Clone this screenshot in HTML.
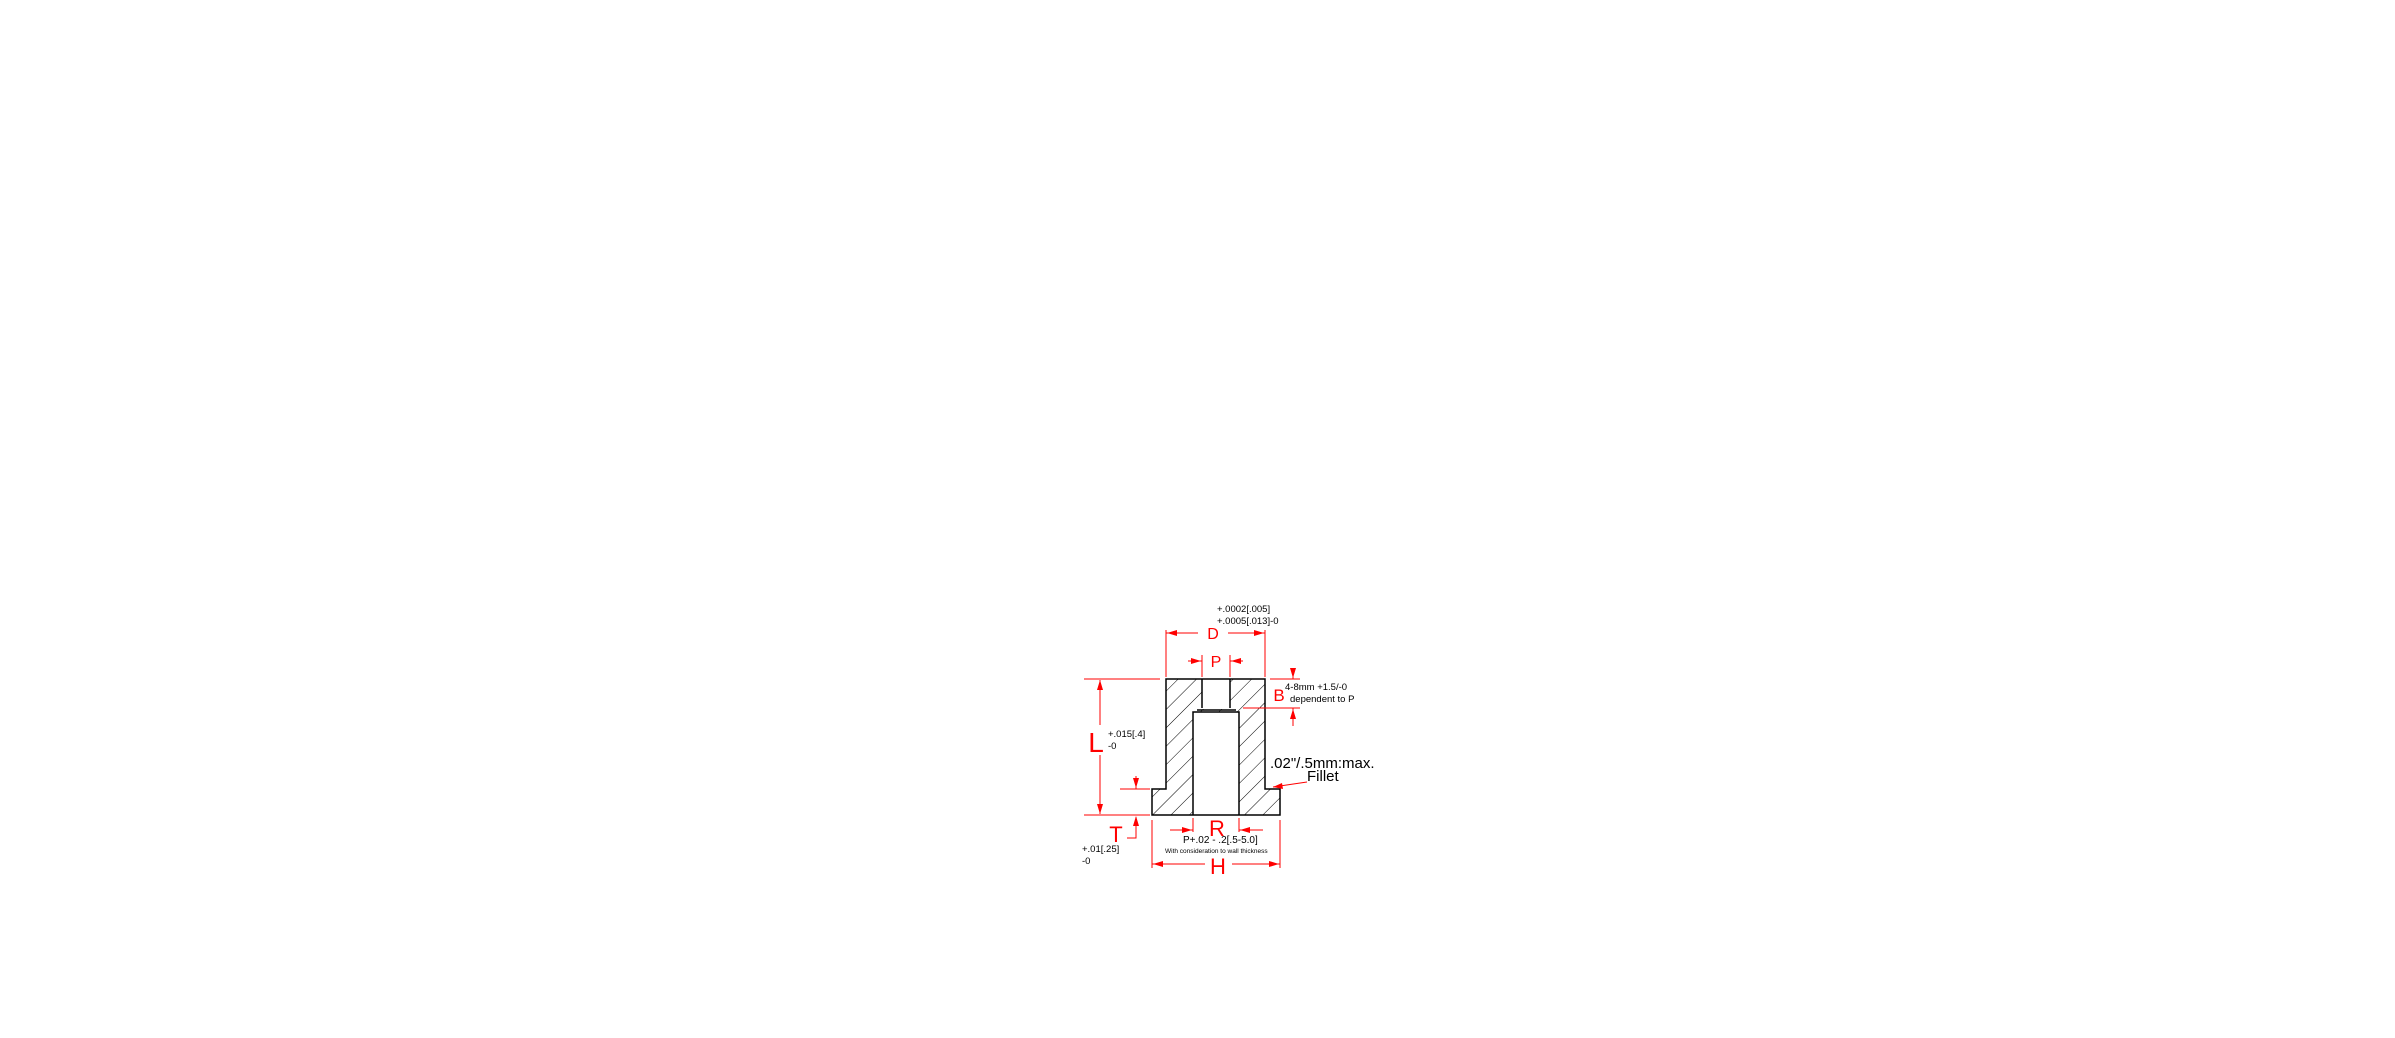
<!DOCTYPE html>
<html><head><meta charset="utf-8"><style>
html,body{margin:0;padding:0;background:#fff;width:2395px;height:1038px;overflow:hidden}
svg{display:block}
text{font-family:"Liberation Sans",sans-serif}
</style></head><body>
<svg width="2395" height="1038" viewBox="0 0 2395 1038" xmlns="http://www.w3.org/2000/svg">
<defs>
<pattern id="h" patternUnits="userSpaceOnUse" width="13" height="13" patternTransform="rotate(45)">
<line x1="0" y1="0" x2="0" y2="13" stroke="#000" stroke-width="1"/>
</pattern>
<clipPath id="c"><path d="M1166 683 Q1166 679 1170 679 L1261 679 Q1265 679 1265 683 L1265 789 L1280 789 L1280 815 L1152 815 L1152 789 L1166 789 Z"/></clipPath>
</defs>
<g clip-path="url(#c)">
<rect x="1150" y="670" width="135" height="150" fill="url(#h)"/>
<rect x="1202" y="679" width="28" height="30" fill="#fff"/>
<rect x="1193" y="712" width="46" height="103" fill="#fff"/>
</g>
<g fill="none" stroke="#000" stroke-width="1.5">
<path d="M1202 679 L1166 679 L1166 789 L1152 789 L1152 815 L1280 815 L1280 789 L1265 789 L1265 679 L1230 679"/>
<path d="M1202 679 L1230 679"/>
<path d="M1202 679 L1202 708 M1230 679 L1230 708 M1197 710 L1236 710"/>
<path d="M1193 815 L1193 712 L1239 712 L1239 815"/>
</g>
<g stroke="#f00" stroke-width="1" fill="none">
<path d="M1084 679 L1160 679 M1084 815 L1150 815 M1100 680 L1100 725 M1100 755 L1100 814"/>
<path d="M1166 630 L1166 677 M1265 630 L1265 677 M1166 633 L1198 633 M1228 633 L1265 633"/>
<path d="M1202 655 L1202 677 M1230 655 L1230 677 M1188 661 L1202 661 M1230 661 L1243 661"/>
<path d="M1270 679 L1300 679 M1243 708 L1300 708 M1293 668 L1293 679 M1293 708 L1293 726"/>
<path d="M1120 789 L1150 789 M1136 776 L1136 789 M1136 817 L1136 838 L1127 838"/>
<path d="M1170 830 L1193 830 M1239 830 L1263 830 M1193 818 L1193 832 M1239 818 L1239 832"/>
<path d="M1152 820 L1152 868 M1280 820 L1280 868 M1152 864 L1205 864 M1232 864 L1280 864"/>
<path d="M1307 782 L1273 787"/>
</g>
<g fill="#f00">
<path d="M1100 680 l-3 10 l6 0z M1100 814 l-3 -10 l6 0z"/>
<path d="M1167 633 l10 -3 l0 6z M1264 633 l-10 -3 l0 6z"/>
<path d="M1201 661 l-10 -3 l0 6z M1231 661 l10 -3 l0 6z"/>
<path d="M1293 678 l-3 -10 l6 0z M1293 709 l-3 10 l6 0z"/>
<path d="M1136 788 l-3 -10 l6 0z M1136 816 l-3 10 l6 0z"/>
<path d="M1192 830 l-10 -3 l0 6z M1240 830 l10 -3 l0 6z"/>
<path d="M1153 864 l10 -3 l0 6z M1279 864 l-10 -3 l0 6z"/>
<path d="M1273 787 l9 -4 l1 6z"/>
</g>
<g fill="#f00" text-anchor="middle">
<text x="1213" y="639" font-size="16">D</text>
<text x="1216" y="667" font-size="16">P</text>
<text x="1279" y="701" font-size="17">B</text>
<text x="1096" y="752" font-size="28">L</text>
<text x="1116" y="842" font-size="22">T</text>
<text x="1217" y="836" font-size="22">R</text>
<text x="1218" y="874" font-size="22">H</text>
</g>
<g fill="#000" font-size="9.5">
<text x="1217" y="612">+.0002[.005]</text>
<text x="1217" y="624">+.0005[.013]-0</text>
<text x="1285" y="690">4-8mm +1.5/-0</text>
<text x="1290" y="702">dependent to P</text>
<text x="1108" y="737">+.015[.4]</text>
<text x="1108" y="749">-0</text>
<text x="1082" y="852">+.01[.25]</text>
<text x="1082" y="864">-0</text>
<text x="1183" y="843" font-size="10">P+.02 - .2[.5-5.0]</text>
<text x="1165" y="853" font-size="6.5">With consideration to wall thickness</text>
<text x="1270" y="768" font-size="15">.02"/.5mm:max.</text>
<text x="1307" y="781" font-size="15">Fillet</text>
</g>
</svg>
</body></html>
